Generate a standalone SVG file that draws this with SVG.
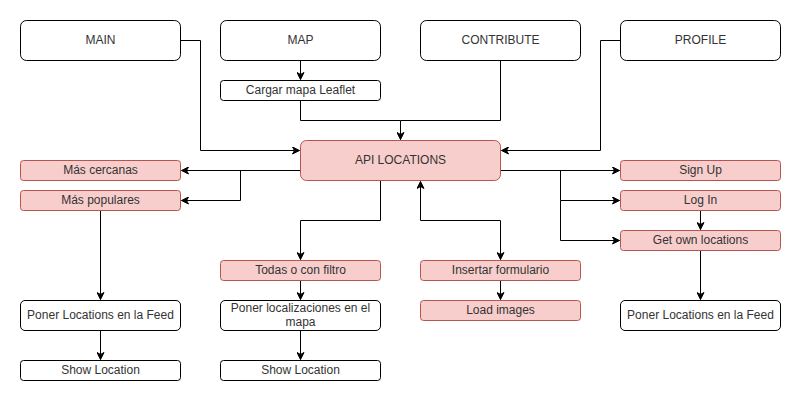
<svg xmlns="http://www.w3.org/2000/svg" width="801" height="402" viewBox="0 0 801 402">
<defs>
<marker id="arr" viewBox="-8 -4 9 8" refX="0" refY="0" markerWidth="9" markerHeight="8" markerUnits="userSpaceOnUse" orient="auto-start-reverse">
<path d="M0,0 L-7,-3.5 L-5,0 L-7,3.5 Z" fill="#000" stroke="#000" stroke-width="1"/>
</marker>
</defs>
<style>
.w{fill:#fff;stroke:#000;stroke-width:1}
.r{fill:#f8cecc;stroke:#b85450;stroke-width:1}
text{font-family:"Liberation Sans",Arial,sans-serif;font-size:12px;fill:#333;text-anchor:middle;dominant-baseline:central}
.e{fill:none;stroke:#000;stroke-width:1;marker-end:url(#arr)}
.n{fill:none;stroke:#000;stroke-width:1}
</style>
<rect width="801" height="402" fill="#fff"/>
<g id="connectors">
<path class="e" d="M180.5,40.5 H200.5 V150.5 H299.5"/>
<path class="e" d="M300.5,60.5 V79.5"/>
<path class="e" d="M300.5,100.5 V120.5 H400.5 V139.5"/>
<path class="n" d="M500.5,60.5 V120.5 H400.5"/>
<path class="e" d="M620.5,40.5 H600.5 V150.5 H501.5"/>
<path class="e" d="M300.5,170.5 H181.5"/>
<path class="e" d="M240.5,170.5 V200.5 H181.5"/>
<path class="e" d="M380.5,180.5 V220.5 H300.5 V259.5"/>
<path class="e" d="M420.5,181.5 V220.5 H500.5 V259.5" style="marker-start:url(#arr)"/>
<path class="e" d="M500.5,170.5 H619.5"/>
<path class="e" d="M560.5,170.5 V200.5 H619.5"/>
<path class="e" d="M560.5,200.5 V240.5 H619.5"/>
<path class="e" d="M700.5,210.5 V229.5"/>
<path class="e" d="M700.5,250.5 V299.5"/>
<path class="e" d="M100.5,210.5 V299.5"/>
<path class="e" d="M100.5,330.5 V359.5"/>
<path class="e" d="M300.5,280.5 V299.5"/>
<path class="e" d="M300.5,330.5 V359.5"/>
<path class="e" d="M500.5,280.5 V299.5"/>
</g>
<g id="main"><rect class="w" x="20.5" y="20.5" width="160" height="40" rx="6"/><text x="100.5" y="39.5">MAIN</text></g>
<g id="map"><rect class="w" x="220.5" y="20.5" width="160" height="40" rx="6"/><text x="300.5" y="39.5">MAP</text></g>
<g id="contribute"><rect class="w" x="420.5" y="20.5" width="160" height="40" rx="6"/><text x="500.5" y="39.5">CONTRIBUTE</text></g>
<g id="profile"><rect class="w" x="620.5" y="20.5" width="160" height="40" rx="6"/><text x="700.5" y="39.5">PROFILE</text></g>
<g id="cargar"><rect class="w" x="220.5" y="80.5" width="160" height="20" rx="3"/><text x="300.5" y="89.5">Cargar mapa Leaflet</text></g>
<g id="api"><rect class="r" x="300.5" y="140.5" width="200" height="40" rx="6"/><text x="400.5" y="159.5">API LOCATIONS</text></g>
<g id="cercanas"><rect class="r" x="20.5" y="160.5" width="160" height="20" rx="3"/><text x="100.5" y="169.5">Más cercanas</text></g>
<g id="populares"><rect class="r" x="20.5" y="190.5" width="160" height="20" rx="3"/><text x="100.5" y="199.5">Más populares</text></g>
<g id="signup"><rect class="r" x="620.5" y="160.5" width="160" height="20" rx="3"/><text x="700.5" y="169.5">Sign Up</text></g>
<g id="login"><rect class="r" x="620.5" y="190.5" width="160" height="20" rx="3"/><text x="700.5" y="199.5">Log In</text></g>
<g id="getown"><rect class="r" x="620.5" y="230.5" width="160" height="20" rx="3"/><text x="700.5" y="239.5">Get own locations</text></g>
<g id="todas"><rect class="r" x="220.5" y="260.5" width="160" height="20" rx="3"/><text x="300.5" y="269.5">Todas o con filtro</text></g>
<g id="insertar"><rect class="r" x="420.5" y="260.5" width="160" height="20" rx="3"/><text x="500.5" y="269.5">Insertar formulario</text></g>
<g id="load"><rect class="r" x="420.5" y="300.5" width="160" height="20" rx="3"/><text x="500.5" y="309.5">Load images</text></g>
<g id="feed-left"><rect class="w" x="20.5" y="300.5" width="160" height="30" rx="4.5"/><text x="100.5" y="314.5">Poner Locations en la Feed</text></g>
<g id="localizaciones"><rect class="w" x="220.5" y="300.5" width="160" height="30" rx="4.5"/><text x="300.5" y="307.5">Poner localizaciones en el</text><text x="300.5" y="321.5">mapa</text></g>
<g id="feed-right"><rect class="w" x="620.5" y="300.5" width="160" height="30" rx="4.5"/><text x="700.5" y="314.5">Poner Locations en la Feed</text></g>
<g id="show-left"><rect class="w" x="20.5" y="360.5" width="160" height="20" rx="3"/><text x="100.5" y="369.5">Show Location</text></g>
<g id="show-mid"><rect class="w" x="220.5" y="360.5" width="160" height="20" rx="3"/><text x="300.5" y="369.5">Show Location</text></g>
</svg>
